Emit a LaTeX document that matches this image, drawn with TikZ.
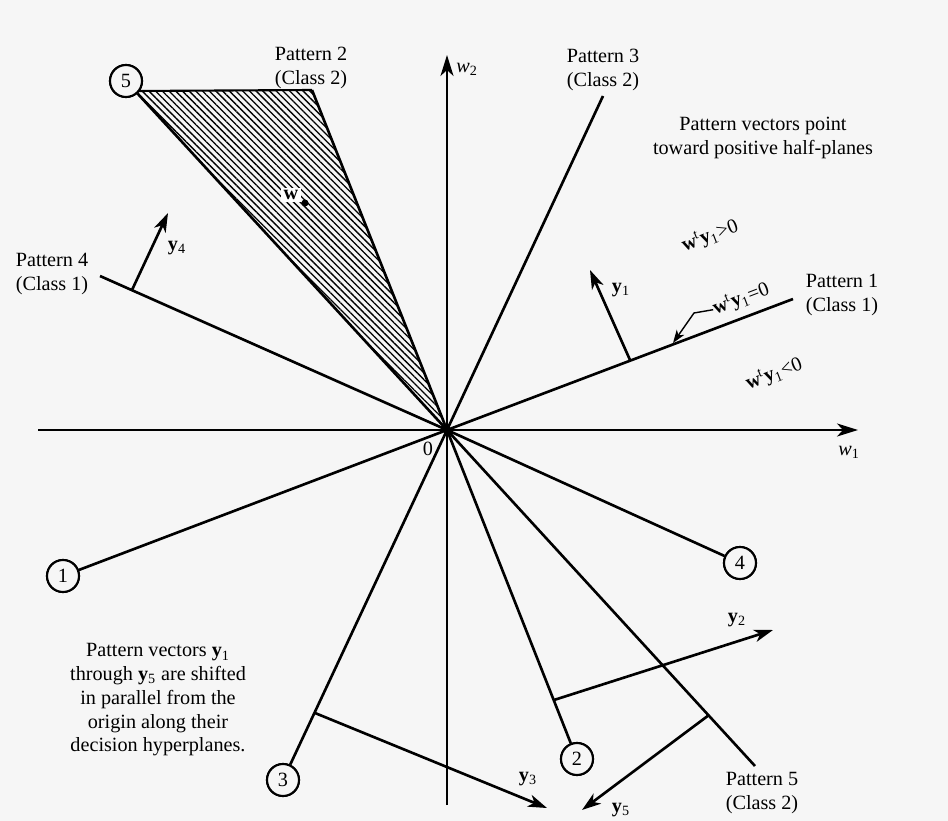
\documentclass[tikz,border=0pt]{standalone}
\usepackage{fontspec}
\setmainfont{Liberation Serif}
\usepackage{xcolor}
\usetikzlibrary{arrows.meta, patterns.meta, positioning, calc}
\definecolor{paper}{gray}{0.965}
\newcommand{\vy}[1]{\textbf{y}\textsubscript{#1}}
\newcommand{\wty}{\textbf{w}\textsuperscript{t}\textbf{y}\textsubscript{1}}
\tikzset{
	hplane/.style={draw, line width=1.5pt},
	axis/.style={draw, line width=1.3pt, -{Stealth[length=4.2mm, width=2.6mm, inset=1.2mm]}},
	vec/.style={draw, line width=1.5pt, -{Stealth[length=3.8mm, width=2.5mm, inset=1.1mm]}},
	lead/.style={draw, line width=0.8pt, -{Stealth[length=2.6mm, width=1.8mm, inset=0.7mm]}},
	numcirc/.style={circle, draw, line width=1.2pt, fill=paper, minimum size=0.64cm, inner sep=0pt, font=\fontsize{11.5}{13.5}\selectfont},
	plabel/.style={align=center, inner sep=0pt, font=\fontsize{11.5}{13.5}\selectfont},
	vlabel/.style={inner sep=0pt, font=\fontsize{11.5}{13.5}\selectfont}
}
\begin{document}
\begin{tikzpicture}[x=0.02cm, y=-0.02cm]
		% Paper and picture size
		\fill[paper] (0,0) rectangle (948,821);
		\useasboundingbox (0,0) rectangle (948,821);
		
		% Origin of the weight space
		\coordinate (O) at (447,430);
		
		% Free ends of the decision hyperplanes
		\coordinate (e1) at (793,299);
		\coordinate (e2) at (312,90);
		\coordinate (e3) at (603,96);
		\coordinate (e4) at (100,276);
		\coordinate (e5) at (755,766);
		\coordinate (h5) at (136,91);
		
		% Solution region (hatched)
		\fill[pattern={Lines[angle=-45, distance=2.7pt, line width=0.75pt]}] (h5) -- (e2) -- (O) -- cycle;
		\draw[line width=1.2pt] (h5) -- (e2);
		
		% Numbered circles at the hyperplane ends
		\node[numcirc] (c1) at (63,576) {1};
		\node[numcirc] (c2) at (577,759) {2};
		\node[numcirc] (c3) at (283,780) {3};
		\node[numcirc] (c4) at (740,563) {4};
		\node[numcirc] (c5) at (126,81) {5};
		
		% Axes w1 and w2
		\coordinate (w1s) at (38,430);
		\coordinate (w1e) at (858,430);
		\coordinate (w2s) at (447,805);
		\coordinate (w2e) at (447,55);
		\draw[axis] (w1s) -- (w1e);
		\draw[axis] (w2s) -- (w2e);
		
		% Decision hyperplanes through the origin
		\draw[hplane] (c1) -- (O) -- (e1);
		\draw[hplane] (e2) -- (O) -- (c2);
		\draw[hplane] (e3) -- (O) -- (c3);
		\draw[hplane] (e4) -- (O) -- (c4);
		\draw[hplane] (c5) -- (O) -- (e5);
		\fill (O) circle (4);
		
		% Pattern vectors, shifted along their hyperplanes
		\coordinate (b1) at (630,360);
		\coordinate (t1) at (590,270);
		\coordinate (b2) at (554,700);
		\coordinate (t2) at (773,630);
		\coordinate (b3) at (315,713);
		\coordinate (t3) at (547,808);
		\coordinate (b4) at (132,290);
		\coordinate (t4) at (168,213);
		\coordinate (b5) at (709,715);
		\coordinate (t5) at (582,810);
		\draw[vec] (b1) -- (t1);
		\draw[vec] (b2) -- (t2);
		\draw[vec] (b3) -- (t3);
		\draw[vec] (b4) -- (t4);
		\draw[vec] (b5) -- (t5);
		
		% Redraw circles on top of the lines
		\node[numcirc] at (c1) {1};
		\node[numcirc] at (c2) {2};
		\node[numcirc] at (c3) {3};
		\node[numcirc] at (c4) {4};
		\node[numcirc] at (c5) {5};
		
		% Vector labels
		\node[vlabel] (y1lab) at (621,290) {\vy{1}};
		\node[vlabel] (y2lab) at (737,620) {\vy{2}};
		\node[vlabel] (y3lab) at (528,779) {\vy{3}};
		\node[vlabel] (y4lab) at (177,248) {\vy{4}};
		\node[vlabel] (y5lab) at (621,810) {\vy{5}};
		
		% Axis labels
		\node[vlabel] (w1lab) at (849,452) {\textit{w}\textsubscript{1}};
		\node[vlabel] (w2lab) at (467,69) {\textit{w}\textsubscript{2}};
		\node[vlabel] (zero) at (428,449) {0};
		
		% Solution point
		\fill (305,203) circle (3.5);
		\node[vlabel, fill=white, inner sep=1.5pt] (wlab) at (291,195) {\textbf{w}};
		
		% Pattern labels
		\node[plabel] (p1lab) at (842,295) {Pattern 1\\(Class 1)};
		\node[plabel] (p2lab) at (311,68) {Pattern 2\\(Class 2)};
		\node[plabel] (p3lab) at (603,70) {Pattern 3\\(Class 2)};
		\node[plabel] (p4lab) at (52,274) {Pattern 4\\(Class 1)};
		\node[plabel] (p5lab) at (762,793) {Pattern 5\\(Class 2)};
		
		% Half-plane labels for pattern 1
		\node[vlabel, rotate=21] (gt) at (710,236) {\wty>0};
		\node[vlabel, rotate=21] (eq) at (741,299) {\wty=0};
		\node[vlabel, rotate=21] (lt) at (774,374) {\wty<0};
		\coordinate (k1) at (694,313);
		\coordinate (k2) at (673,343);
		\draw[lead] (eq.west) -- (k1) -- (k2);
		
		% Notes
		\node[plabel] (note1) at (763,138) {Pattern vectors point\\toward positive half-planes};
		\node[plabel] (note2) at (158,700) {Pattern vectors \vy{1}\\through \vy{5} are shifted\\in parallel from the\\origin along their\\decision hyperplanes.};
		
	\end{tikzpicture}
\end{document}
